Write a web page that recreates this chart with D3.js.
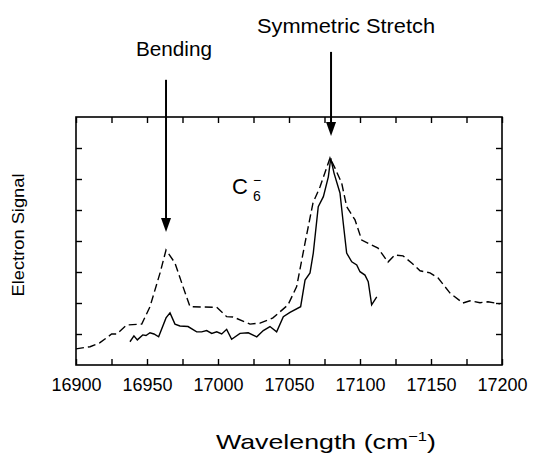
<!DOCTYPE html>
<html>
<head>
<meta charset="utf-8">
<script src="https://cdn.jsdelivr.net/npm/d3@7"></script>
<style>
  body { margin: 0; background: #fff; }
  text { font-family: "Liberation Sans", Arial, Helvetica, sans-serif; fill: #000; }
</style>
</head>
<body>
<div id="vis1"></div>
<script>
// Dashed spectrum (wavenumber, signal)
const DASHED_X = [16900, 16909.9, 16916.9, 16925.1, 16928.7, 16935.7, 16946.3, 16952.1, 16959.2, 16963.4,
  16969.7, 16975.4, 16980.3, 16999.1, 17006.1, 17010.6, 17022.5, 17029.6, 17038.7, 17049.3,
  17055.4, 17061.3, 17066.9, 17071.8, 17078.9, 17082.4, 17087.1, 17090.6, 17096.5, 17101.2,
  17112.7, 17119.7, 17124.6, 17130.3, 17136.4, 17142.3, 17149.3, 17154.9, 17163.4, 17172.5,
  17177.5, 17184.5, 17190.1, 17198.6];
const DASHED_Y = [0.52, 0.59, 0.72, 1.0, 1.0, 1.29, 1.32, 1.88, 2.97, 3.71,
  3.29, 2.52, 1.88, 1.86, 1.56, 1.55, 1.32, 1.35, 1.52, 1.94,
  2.53, 3.94, 5.23, 5.74, 6.68, 6.35, 5.87, 5.11, 4.68, 4.03,
  3.77, 3.32, 3.55, 3.52, 3.29, 3.04, 2.97, 2.81, 2.32, 2.0,
  2.07, 2.01, 2.04, 1.97];

// Solid spectrum
const SOLID_X = [16938.0, 16940.8, 16943.2, 16947.0, 16949.3, 16952.1, 16954.9, 16958.2, 16963.4, 16966.2,
  16969.7, 16973.2, 16978.9, 16985.0, 16988.5, 16992.0, 16995.6, 16999.1, 17002.6, 17006.1,
  17009.6, 17015.5, 17021.3, 17027.3, 17031.9, 17036.6, 17041.3, 17046.0, 17050.7, 17058.2,
  17061.3, 17064.8, 17067.1, 17070.6, 17074.2, 17077.7, 17079.4, 17081.7, 17085.9, 17088.2,
  17090.6, 17094.2, 17097.7, 17100.0, 17103.5, 17105.8, 17108.2, 17111.8];
const SOLID_Y = [0.75, 0.94, 0.81, 0.97, 0.95, 1.04, 1.0, 0.91, 1.52, 1.68,
  1.32, 1.26, 1.24, 1.07, 1.07, 1.11, 1.02, 1.07, 1.0, 1.15,
  0.83, 1.02, 1.04, 0.91, 1.11, 1.24, 1.07, 1.56, 1.70, 1.88,
  2.74, 2.97, 3.61, 5.11, 5.43, 6.07, 6.67, 6.19, 5.55, 4.58,
  3.61, 3.33, 3.23, 3.01, 2.90, 2.69, 1.94, 2.20];

const X_TICKS = [16900, 16925, 16950, 16975, 17000, 17025, 17050, 17075, 17100, 17125, 17150, 17175, 17200];
const Y_TICKS = [1, 2, 3, 4, 5, 6, 7];

// Annotation arrows: wavenumber, top of shaft (signal units above frame), tip
const ARROW_X = [16963.4, 17079.6];
const ARROW_TOP = [9.2, 10.1];
const ARROW_TIP = [4.29, 7.39];
const ARROW_LABELS = ["Bending", "Symmetric Stretch"];

const FRAME_HEIGHT = 454;
const FRAME_WIDTH = 533;
const MARGINS = {left: 76, right: 31, top: 117, bottom: 89};
const VIS_HEIGHT = FRAME_HEIGHT - MARGINS.top - MARGINS.bottom;
const VIS_WIDTH = FRAME_WIDTH - MARGINS.left - MARGINS.right;

const FRAME1 = d3.select("#vis1")
                 .append("svg")
                 .attr("height", FRAME_HEIGHT)
                 .attr("width", FRAME_WIDTH);

const X_SCALE = d3.scaleLinear().domain([16900, 17200]).range([MARGINS.left, MARGINS.left + VIS_WIDTH]);
const Y_SCALE = d3.scaleLinear().domain([0, 8]).range([MARGINS.top + VIS_HEIGHT, MARGINS.top]);

// Axes (ticks point inward)
const fmt = (d) => (d % 50 === 0 ? d : "");
FRAME1.append("g")
      .attr("transform", "translate(0," + (MARGINS.top + VIS_HEIGHT) + ")")
      .call(d3.axisBottom(X_SCALE).tickValues(X_TICKS).tickSize(-6).tickSizeOuter(0).tickPadding(13).tickFormat(fmt))
      .attr("font-size", "18px");
FRAME1.append("g")
      .attr("transform", "translate(0," + MARGINS.top + ")")
      .call(d3.axisTop(X_SCALE).tickValues(X_TICKS).tickSize(-6).tickSizeOuter(0).tickFormat(""));
FRAME1.append("g")
      .attr("transform", "translate(" + MARGINS.left + ",0)")
      .call(d3.axisLeft(Y_SCALE).tickValues(Y_TICKS).tickSize(-6).tickSizeOuter(0).tickFormat(""));
FRAME1.append("g")
      .attr("transform", "translate(" + (MARGINS.left + VIS_WIDTH) + ",0)")
      .call(d3.axisRight(Y_SCALE).tickValues(Y_TICKS).tickSize(-6).tickSizeOuter(0).tickFormat(""));

FRAME1.selectAll(".domain").remove();
FRAME1.selectAll(".tick line").attr("stroke", "#000").attr("stroke-width", 1.4);
FRAME1.selectAll(".tick text").attr("fill", "#000").attr("font-family", "Liberation Sans, Arial, sans-serif");

FRAME1.append("rect")
      .attr("x", MARGINS.left).attr("y", MARGINS.top)
      .attr("width", VIS_WIDTH).attr("height", VIS_HEIGHT)
      .attr("fill", "none").attr("stroke", "#000").attr("stroke-width", 1.6);

// Spectra
const line = d3.line().x((d) => X_SCALE(d[0])).y((d) => Y_SCALE(d[1]));

FRAME1.append("path")
      .datum(DASHED_X.map((x, i) => [x, DASHED_Y[i]]))
      .attr("d", line)
      .attr("fill", "none").attr("stroke", "#000").attr("stroke-width", 1.4)
      .attr("stroke-dasharray", "8,4");

FRAME1.append("path")
      .datum(SOLID_X.map((x, i) => [x, SOLID_Y[i]]))
      .attr("d", line)
      .attr("fill", "none").attr("stroke", "#000").attr("stroke-width", 1.4);

// Arrows and their labels
ARROW_X.forEach((ax, i) => {
  const px = X_SCALE(ax);
  const yTop = Y_SCALE(ARROW_TOP[i]);
  const yTip = Y_SCALE(ARROW_TIP[i]);
  FRAME1.append("line")
        .attr("x1", px).attr("x2", px)
        .attr("y1", yTop).attr("y2", yTip - 10)
        .attr("stroke", "#000").attr("stroke-width", 2);
  FRAME1.append("path")
        .attr("d", "M" + (px - 5) + "," + (yTip - 14) + "L" + (px + 5) + "," + (yTip - 14) + "L" + px + "," + yTip + "Z")
        .attr("fill", "#000");
});

FRAME1.append("text")
      .attr("x", 174).attr("y", 56)
      .attr("text-anchor", "middle").attr("font-size", "21px")
      .attr("textLength", 76).attr("lengthAdjust", "spacingAndGlyphs")
      .text(ARROW_LABELS[0]);
FRAME1.append("text")
      .attr("x", 346).attr("y", 33)
      .attr("text-anchor", "middle").attr("font-size", "21px")
      .attr("textLength", 178).attr("lengthAdjust", "spacingAndGlyphs")
      .text(ARROW_LABELS[1]);

// C6- label
FRAME1.append("text").attr("x", 232).attr("y", 194).attr("font-size", "22px").text("C");
FRAME1.append("text").attr("x", 253).attr("y", 201).attr("font-size", "14px").text("6");
FRAME1.append("text").attr("x", 253).attr("y", 185).attr("font-size", "14px").text("\u2212");

// Axis titles
const xt = FRAME1.append("text")
      .attr("x", 326).attr("y", 449)
      .attr("text-anchor", "middle").attr("font-size", "21px")
      .attr("textLength", 220).attr("lengthAdjust", "spacingAndGlyphs");
xt.append("tspan").text("Wavelength (cm");
xt.append("tspan").attr("font-size", "13px").attr("dy", "-8").text("\u22121");
xt.append("tspan").attr("dy", "8").text(")");

FRAME1.append("text")
      .attr("transform", "translate(24,235) rotate(-90)")
      .attr("text-anchor", "middle").attr("font-size", "17px")
      .attr("textLength", 123).attr("lengthAdjust", "spacingAndGlyphs")
      .text("Electron Signal");
</script>
</body>
</html>
